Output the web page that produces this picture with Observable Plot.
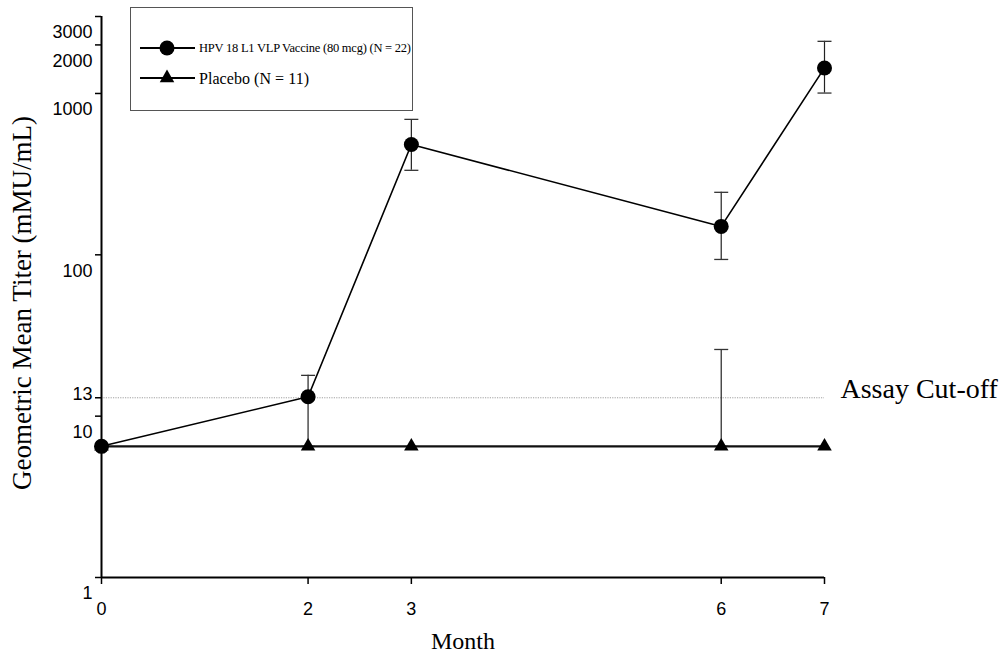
<!DOCTYPE html>
<html><head><meta charset="utf-8">
<script src="https://cdn.jsdelivr.net/npm/d3@7"></script>
<script src="https://cdn.jsdelivr.net/npm/@observablehq/plot@0.6"></script>
<style>
body{margin:0;background:#fff;}
#wrap{position:relative;width:1008px;height:660px;}
</style></head><body><div id="wrap"></div>
<script>
// Data
const months = [0, 2, 3, 6, 7];
const vaccineGMT  = [6.5, 13.2, 483, 150, 1440];
const vaccineLow  = [null, 6.5, 334, 93.6, 1006];
const vaccineHigh = [null, 17.9, 691, 244, 2105];
const placeboGMT  = [6.5, 6.5, 6.5, 6.5, 6.5];
const placeboLow  = [null, null, null, 6.5, null];
const placeboHigh = [null, null, null, 25.9, null];
const yTickValues = [1, 10, 100, 1000, 2000, 3000];
const cutoffValue = 13;
const cutoffLabel = "Assay Cut-off";
const vaccineName = "HPV 18 L1 VLP Vaccine (80 mcg) (N = 22)";
const placeboName = "Placebo (N = 11)";
const yTitle = "Geometric Mean Titer (mMU/mL)";
const xTitle = "Month";

const vaccine = months.map((m, i) => ({month: m, gmt: vaccineGMT[i], lo: vaccineLow[i], hi: vaccineHigh[i]}));
const placebo = months.map((m, i) => ({month: m, gmt: placeboGMT[i], lo: placeboLow[i], hi: placeboHigh[i]}));
const errRows = [...vaccine, ...placebo].filter(d => d.hi != null);
const caps = errRows.flatMap(d => [{month: d.month, v: d.hi}, {month: d.month, v: d.lo}]);

const capSymbol = {draw(ctx) { ctx.moveTo(-7, 0); ctx.lineTo(7, 0); }};
const sans = "'Liberation Sans', Arial, sans-serif";
const serif = "'Liberation Serif', 'Times New Roman', serif";

const chart = Plot.plot({
  width: 1008, height: 660,
  marginLeft: 101, marginRight: 184, marginTop: 16, marginBottom: 83,
  style: {background: "#fff", color: "#000", overflow: "visible"},
  x: {domain: [0, 7], label: null},
  y: {type: "log", domain: [1, 3000], label: null},
  marks: [
    Plot.ruleY([cutoffValue], {stroke: "#888", strokeWidth: 0.8, strokeDasharray: "1.2,1.2"}),
    Plot.ruleX(errRows, {x: "month", y1: "lo", y2: "hi", stroke: "#222", strokeWidth: 1.2}),
    Plot.dot(caps, {x: "month", y: "v", symbol: capSymbol, stroke: "#333", strokeWidth: 1.3, r: 5}),
    Plot.line(placebo, {x: "month", y: "gmt", stroke: "#111", strokeWidth: 2.2}),
    Plot.dot(placebo, {x: "month", y: "gmt", symbol: "triangle", r: 5.4, fill: "#000", stroke: "none"}),
    Plot.line(vaccine, {x: "month", y: "gmt", stroke: "#000", strokeWidth: 1.6}),
    Plot.dot(vaccine, {x: "month", y: "gmt", r: 7.5, fill: "#000", stroke: "none"}),
    Plot.ruleX([0], {stroke: "#000", strokeWidth: 2}),
    Plot.ruleY([1], {stroke: "#000", strokeWidth: 2}),
    Plot.axisY({ticks: [...yTickValues, cutoffValue], tickSize: 6, fill: "none", strokeWidth: 1.5, label: null}),
    Plot.axisY({ticks: yTickValues, tickSize: 6, tickPadding: 3, stroke: "none", dy: 16, fontSize: 18, fontFamily: sans, tickFormat: d => String(d), label: null}),
    Plot.axisY({ticks: [cutoffValue], tickSize: 6, tickPadding: 3, stroke: "none", dy: -4, fontSize: 18, fontFamily: sans, tickFormat: d => String(d), label: null}),
    Plot.axisX({ticks: months, tickSize: 7, tickPadding: 18, strokeWidth: 1.5, fontSize: 18, fontFamily: sans, tickFormat: d => String(d), label: null}),
    Plot.text([yTitle], {text: d => d, frameAnchor: "left", textAnchor: "middle", dx: -79, dy: 6, rotate: -90, fontSize: 27, fontFamily: serif}),
    Plot.text([xTitle], {text: d => d, frameAnchor: "bottom", dy: 71, fontSize: 24, fontFamily: serif}),
    Plot.text([{x: 7, y: cutoffValue, label: cutoffLabel}], {x: "x", y: "y", text: "label", dx: 16, dy: -9, textAnchor: "start", fontSize: 28, fontFamily: serif})
  ]
});
document.getElementById("wrap").appendChild(chart);

// Legend drawn into the same SVG
const svg = d3.select(chart);
const g = svg.append("g").attr("class", "legend").attr("text-anchor", "start");
g.append("rect").attr("x", 130.5).attr("y", 7.5).attr("width", 282).attr("height", 103)
  .attr("fill", "#fff").attr("stroke", "#555").attr("stroke-width", 1);
const rows = [
  {y: 48, name: vaccineName, sym: d3.symbolCircle, size: Math.PI * 7.5 * 7.5, fs: 12.5, len: 212},
  {y: 78, name: placeboName, sym: d3.symbolTriangle, size: Math.PI * 5.4 * 5.4, fs: 16, len: 110}
];
rows.forEach(r => {
  g.append("line").attr("x1", 140).attr("x2", 195).attr("y1", r.y).attr("y2", r.y).attr("stroke", "#000").attr("stroke-width", 2);
  g.append("path").attr("d", d3.symbol(r.sym, r.size)()).attr("transform", `translate(167,${r.y})`).attr("fill", "#000");
  g.append("text").attr("x", 199).attr("y", r.y).attr("dy", "0.35em").attr("font-size", r.fs)
    .attr("font-family", serif).attr("fill", "#000")
    .attr("textLength", r.len).attr("lengthAdjust", "spacing").text(r.name);
});
</script></body></html>
